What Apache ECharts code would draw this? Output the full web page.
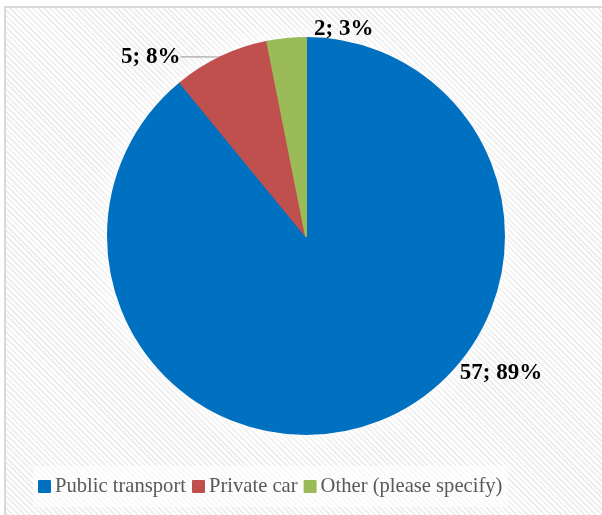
<!DOCTYPE html>
<html>
<head>
<meta charset="utf-8">
<script src="https://cdn.jsdelivr.net/npm/echarts@6/dist/echarts.min.js"></script>
<style>
  html, body { margin: 0; padding: 0; background: #fff; }
  #frame {
    position: absolute; left: 4px; top: 6px; width: 700px; height: 600px;
    border: 2px solid #d9d9d9;
    background: repeating-linear-gradient(45deg, #ffffff 0px, #ffffff 2px, #efefef 2px, #efefef 4px);
  }
  #chart { position: absolute; left: 0; top: 0; width: 602px; height: 515px; }
</style>
</head>
<body>
<div id="frame"></div>
<div id="chart"></div>
<script>
const categories = ['Public transport', 'Private car', 'Other (please specify)'];
const values = [57, 5, 2];
const colors = ['#0070C0', '#C0504D', '#9BBB59'];

const chart = echarts.init(document.getElementById('chart'), null, { renderer: 'canvas' });
const cx = 306, cy = 236, R = 199;
// label placement as multiples of radius relative to the centre
const labelPlace = [
  { dx: 0.98, dy: 0.69 },
  { dx: -0.78, dy: -0.90 },
  { dx: 0.19, dy: -1.04 }
];
const serif = "'Liberation Serif', 'Times New Roman', serif";

chart.setOption({
  backgroundColor: 'transparent',
  animation: false,
  legend: {
    left: 33, top: 466,
    itemWidth: 11, itemHeight: 11, itemGap: 6,
    icon: 'rect',
    padding: [10, 5, 10, 5],
    backgroundColor: 'rgba(255,255,255,0.6)',
    textStyle: { fontFamily: serif, fontSize: 20.6, color: '#595959' },
    data: categories
  },
  graphic: [{
    type: 'circle', z: -10, silent: true,
    shape: { cx: cx, cy: cy, r: R - 4 },
    style: { fill: '#ffffff', shadowBlur: 30, shadowColor: 'rgba(255,255,255,1)' }
  }],
  series: [
    {
      type: 'pie',
      center: [cx, cy], radius: R - 1,
      startAngle: 90, clockwise: true, padAngle: 0,
      data: categories.map((c, i) => ({ name: c, value: values[i],
        itemStyle: { color: colors[i], borderColor: colors[i], borderWidth: 2 },
        labelLine: { show: i === 1 } })),
      label: {
        show: true, position: 'outside',
        formatter: p => p.value + '; ' + Math.round(p.percent) + '%',
        fontFamily: serif, fontWeight: 'bold', fontSize: 23, color: '#000'
      },
      labelLine: { show: true, length: 12, length2: 20, lineStyle: { color: '#a6a6a6', width: 1.2 } },
      labelLayout: function (params) {
        const pl = labelPlace[params.dataIndex];
        return { x: cx + pl.dx * R, y: cy + pl.dy * R, align: 'center', verticalAlign: 'middle' };
      }
    }
  ]
});
</script>
</body>
</html>
